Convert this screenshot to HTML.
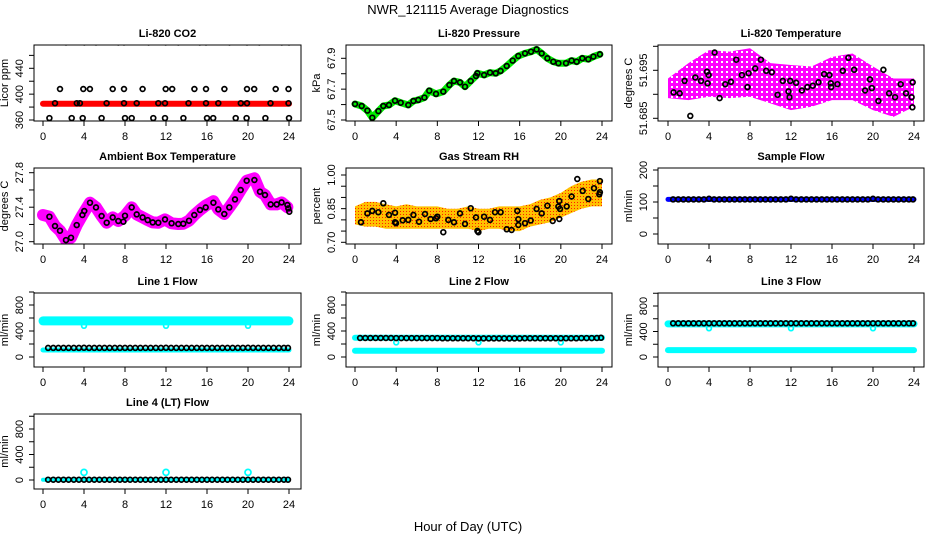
<!DOCTYPE html>
<html><head><meta charset="utf-8">
<style>
html,body{margin:0;padding:0;background:#fff;}
svg{display:block;font-family:"Liberation Sans",Arial,sans-serif;}
</style></head>
<body>
<svg id="chart" width="936" height="540" viewBox="0 0 936 540" xmlns="http://www.w3.org/2000/svg">
<defs>
<pattern id="magPat" width="5" height="5" patternUnits="userSpaceOnUse"><rect width="5" height="5" fill="#ff00ff"/><rect x="1" y="1" width="2" height="2" fill="#ffffff"/></pattern>
<pattern id="rhPat" width="3" height="3" patternUnits="userSpaceOnUse"><rect width="3" height="3" fill="#ffc000"/><rect x="1" y="1" width="1" height="1" fill="#ff2000"/></pattern>
</defs>
<text x="468" y="14" text-anchor="middle" font-size="13">NWR_121115  Average Diagnostics</text>
<text x="468" y="531" text-anchor="middle" font-size="13">Hour of Day (UTC)</text>
</svg>
<script>
// ---------- data ----------
const xTicks = [0,4,8,12,16,20,24];
// CO2
const co2RedHours = [0,24];
const co2RedValues = [385,385];
const co2Hours = [2.24,4.03,5.17,7.35,7.9,10.3,11.97,13.2,15.3,15.9,18.2,19.9,21.1,23.3,24.0,
 1.66,3.93,4.58,6.8,7.9,9.72,11.97,12.6,14.77,15.9,17.7,19.9,20.6,22.7,23.95,
 1.17,3.3,3.6,6.2,7.9,9.14,11.25,11.9,14.2,15.9,17.1,19.3,19.9,22.2,23.95,
 0.62,2.8,3.87,5.72,8.0,8.65,10.76,11.9,13.7,16.0,16.6,18.8,19.86,21.7,24.0];
const co2Values = [480,480,480,480,480,480,480,480,480,480,480,480,480,480,480,
 408,408,408,408,408,408,408,408,408,408,408,408,408,408,408,
 386,386,386,386,386,386,386,386,386,386,386,386,386,386,386,
 363,363,363,363,363,363,363,363,363,363,363,363,363,363,363];
const co2YTicks = [360,380,400,420,440,460];
const co2YLabels = [360,400,440];
// Pressure
const presHours = [0,0.65,1.2,1.68,2.27,2.75,3.3,3.89,4.44,5.18,5.67,6.15,6.74,7.22,7.87,8.58,9.17,9.62,10.2,10.69,11.24,11.76,11.89,12.54,13.12,13.67,14.15,14.74,15.32,15.87,16.52,17.1,17.65,18.14,18.69,19.27,19.76,20.5,21.05,21.54,22.09,22.67,23.16,23.8];
const presValues = [67.604,67.591,67.561,67.515,67.558,67.591,67.597,67.625,67.612,67.597,67.623,67.630,67.645,67.690,67.669,67.684,67.727,67.753,67.744,67.716,67.753,67.785,67.803,67.792,67.807,67.803,67.818,67.850,67.885,67.915,67.932,67.943,67.958,67.932,67.900,67.878,67.868,67.868,67.885,67.878,67.900,67.894,67.911,67.926];
const presYTicks = [67.5,67.6,67.7,67.8,67.9];
const presYLabels = [67.5,67.7,67.9];
// Li-820 Temperature
const ltCloudHours = [0,2,4,6,8,10,12,14,16,18,20,22,24];
const ltCloudUpper = [51.6933,51.6965,51.6992,51.6989,51.6996,51.6965,51.6961,51.6958,51.6978,51.6985,51.6958,51.6933,51.6933];
const ltCloudLower = [51.6892,51.6888,51.6895,51.6892,51.6895,51.6881,51.6867,51.6874,51.6888,51.6888,51.6867,51.6853,51.6874];
const ltHours = [0.55,1.14,1.62,2.18,2.66,3.22,3.8,3.86,3.96,4.55,5.03,5.59,6.14,6.66,7.21,7.76,7.86,8.51,9.06,9.58,10.13,10.69,11.2,11.76,11.85,11.92,12.5,13.06,13.6,14.13,14.68,15.23,15.75,15.88,15.91,16.53,17.05,17.6,18.16,19.23,19.71,19.88,20.53,21.01,21.57,22.15,22.7,23.22,23.77,23.87,23.84];
const ltValues = [51.6904,51.6902,51.6928,51.6855,51.6935,51.6928,51.6947,51.6923,51.6940,51.6987,51.6892,51.6921,51.6926,51.6972,51.6940,51.6915,51.6944,51.6954,51.6972,51.6949,51.6946,51.6899,51.6928,51.6906,51.6894,51.6928,51.6924,51.6908,51.6915,51.6918,51.6925,51.6942,51.6940,51.6923,51.6915,51.6921,51.6949,51.6976,51.6951,51.6908,51.6931,51.6913,51.6886,51.6951,51.6902,51.6894,51.6921,51.6902,51.6894,51.6925,51.6873];
const ltYTicks = [51.685,51.69,51.695,51.70];
const ltYLabels = [51.685,51.695];
// Ambient box temperature
const ambHours = [0.62,1.17,1.66,2.24,2.73,3.29,3.84,4.03,4.59,5.17,5.72,6.21,6.8,7.35,7.84,8.0,8.65,9.14,9.72,10.21,10.7,11.25,11.9,12.55,13.2,13.69,14.24,14.76,15.32,15.87,16.62,17.1,17.69,18.18,18.73,19.29,19.87,20.62,21.17,21.66,22.21,22.8,23.28,23.84,23.93,24.03];
const ambValues = [27.290,27.182,27.128,27.019,27.046,27.193,27.309,27.356,27.452,27.398,27.298,27.220,27.282,27.240,27.232,27.301,27.398,27.317,27.282,27.251,27.224,27.220,27.259,27.213,27.205,27.209,27.243,27.309,27.367,27.398,27.452,27.375,27.321,27.398,27.491,27.599,27.707,27.715,27.580,27.541,27.433,27.433,27.456,27.425,27.386,27.348];
const ambBandHours = [0,0.62,1.17,1.66,2.24,2.73,3.29,3.84,4.59,5.17,5.72,6.21,6.8,7.35,8.0,8.65,9.14,9.72,10.21,10.7,11.25,11.9,12.55,13.2,13.69,14.24,14.76,15.32,15.87,16.62,17.1,17.69,18.18,18.73,19.29,19.87,20.62,21.17,21.66,22.21,22.8,23.28,23.84];
const ambBandValues = [27.31,27.290,27.182,27.128,27.019,27.046,27.193,27.309,27.452,27.398,27.298,27.220,27.282,27.240,27.301,27.398,27.317,27.282,27.251,27.224,27.220,27.259,27.213,27.205,27.209,27.243,27.309,27.367,27.420,27.470,27.375,27.321,27.398,27.491,27.599,27.707,27.735,27.580,27.541,27.433,27.433,27.456,27.400];
const ambYTicks = [27.0,27.2,27.4,27.6,27.8];
const ambYLabels = ["27.0","27.4","27.8"];
// Gas stream RH
const rhCloudHours = [0,1,2,3,4,5,6,7,8,9,10,11,12,13,14,15,16,17,18,19,20,21,22,23,24];
const rhCloudUpper = [0.86,0.88,0.88,0.87,0.86,0.87,0.86,0.86,0.86,0.85,0.85,0.86,0.85,0.85,0.86,0.86,0.86,0.87,0.89,0.90,0.92,0.95,0.97,0.98,0.98];
const rhCloudLower = [0.78,0.77,0.77,0.76,0.76,0.76,0.76,0.76,0.76,0.76,0.76,0.76,0.75,0.76,0.76,0.75,0.75,0.77,0.78,0.79,0.81,0.83,0.85,0.86,0.86];
const rhHours = [0.58,1.2,1.68,2.27,2.75,3.3,3.89,3.89,3.98,4.63,5.18,5.67,6.22,6.8,7.35,7.87,8.0,8.58,9.07,9.62,10.2,10.69,11.24,11.76,11.89,11.99,12.54,13.12,13.6,14.15,14.74,15.22,15.77,15.87,15.87,16.52,17.07,17.65,18.14,18.69,19.21,19.76,19.85,19.92,19.85,20.57,21.05,21.6,22.12,22.67,23.22,23.8,23.8,23.74];
const rhValues = [0.789,0.829,0.840,0.834,0.874,0.822,0.832,0.789,0.785,0.798,0.800,0.822,0.792,0.826,0.804,0.807,0.814,0.745,0.800,0.789,0.829,0.782,0.852,0.811,0.751,0.745,0.814,0.800,0.834,0.834,0.758,0.755,0.840,0.803,0.777,0.785,0.797,0.849,0.829,0.863,0.795,0.859,0.884,0.849,0.804,0.860,0.904,0.982,0.929,0.893,0.941,0.973,0.923,0.914];
const rhYTicks = [0.70,0.75,0.80,0.85,0.90,0.95,1.00];
const rhYLabels = ["0.70","0.85","1.00"];
// Flows
const flowHours = [0.5,1,1.5,2,2.5,3,3.5,4,4.5,5,5.5,6,6.5,7,7.5,8,8.5,9,9.5,10,10.5,11,11.5,12,12.5,13,13.5,14,14.5,15,15.5,16,16.5,17,17.5,18,18.5,19,19.5,20,20.5,21,21.5,22,22.5,23,23.5,23.9];
const sampleBlack = [108,108,108,108,108,108,108,110,108,108,108,108,108,108,108,108,108,108,108,108,108,108,108,110,108,108,108,108,108,108,108,108,108,108,108,108,108,108,108,110,108,108,108,108,108,108,108,108];
const line1Black = [140,140,140,140,140,140,140,142,140,140,140,140,140,140,140,140,140,140,140,140,140,140,140,142,140,140,140,140,140,140,140,140,140,140,140,140,140,140,140,142,140,140,140,140,140,140,140,140];
const line2Black = [292,292,292,292,292,292,292,290,290,290,290,290,290,290,290,290,288,288,288,288,288,288,288,286,286,286,286,286,286,286,286,286,288,288,288,288,288,288,288,288,288,288,288,290,290,290,292,295];
const line3Black = [528,528,528,528,528,528,528,528,528,528,528,528,528,528,528,528,528,528,528,528,528,528,528,528,528,528,528,528,528,528,528,528,528,528,528,528,528,528,528,528,528,528,528,528,528,528,528,528];
const line4Black = [5,5,5,5,5,5,5,5,5,5,5,5,5,5,5,5,5,5,5,5,5,5,5,5,5,5,5,5,5,5,5,5,5,5,5,5,5,5,5,5,5,5,5,5,5,5,5,5];
const bandHours = [0,24];
const sampleBand = [108,108];
const line1CyanHigh = [555,555];
const line1CyanLow = [108,108];
const line2CyanHigh = [295,295];
const line2CyanLow = [97,97];
const line3CyanHigh = [520,520];
const line3CyanLow = [108,108];
const line4Cyan = [5,5];
const dipHours = [4,12,20];
const line1Dips = [480,480,480];
const line2Dips = [225,225,225];
const line3Dips = [450,450,450];
const line4Dips = [120,120,120];
const sampleYTicks = [0,50,100,150,200];
const sampleYLabels = [0,100,200];
const flowYTicks = [0,200,400,600,800,1000];
const flowYLabels = [0,400,800];

// ---------- layout ----------
const NS = "http://www.w3.org/2000/svg";
const svg = document.getElementById("chart");
const cols = [{l:34,r:301,x0:43,x24:289},{l:346,r:612,x0:355,x24:602},{l:658,r:924,x0:668,x24:914}];
const rows = [{t:45,b:121},{t:168,b:244},{t:293,b:367},{t:414,b:489}];

function mk(tag, attrs, parent){
  const e = document.createElementNS(NS, tag);
  for (const k in attrs) e.setAttribute(k, attrs[k]);
  (parent||svg).appendChild(e);
  return e;
}
function linScale(v1,p1,v2,p2){ return v => p1 + (v - v1)*(p2 - p1)/(v2 - v1); }

function panel(name, title, ci, ri, ylab, yv1, yp1, yv2, yp2, yTicks, yLabels){
  const c = cols[ci], r = rows[ri];
  const g = mk("g", {});
  
  
  const x = linScale(0, c.x0, 24, c.x24);
  const y = linScale(yv1, yp1, yv2, yp2);
  const clip = mk("clipPath", {id:"clip-"+name}, g);
  mk("rect", {x:c.l, y:r.t, width:c.r-c.l, height:r.b-r.t}, clip);
  const plot = mk("g", {"clip-path":"url(#clip-"+name+")"}, g);
  
  
  const t = mk("text", {x:(c.l+c.r)/2, y:r.t-8, "text-anchor":"middle", "font-size":"11", "font-weight":"bold"}, g);
  t.textContent = title;
  
  
  const xa = mk("g", {}, g);
  
  
  mk("line", {x1:x(xTicks[0]), x2:x(xTicks[xTicks.length-1]), y1:r.b, y2:r.b, stroke:"#000"}, xa);
  xTicks.forEach(v => {
    mk("line", {x1:x(v), x2:x(v), y1:r.b, y2:r.b+5, stroke:"#000"}, xa);
    const lt = mk("text", {x:x(v), y:r.b+19, "text-anchor":"middle", "font-size":"11"}, xa);
    lt.textContent = v;
  });
  const ya = mk("g", {}, g);
  
  
  mk("line", {x1:c.l, x2:c.l, y1:y(yTicks[0]), y2:y(yTicks[yTicks.length-1]), stroke:"#000"}, ya);
  yTicks.forEach(v => { mk("line", {x1:c.l-5, x2:c.l, y1:y(v), y2:y(v), stroke:"#000"}, ya); });
  yLabels.forEach(v => {
    const px = c.l-11, py = y(parseFloat(v));
    const lt = mk("text", {x:px, y:py, "text-anchor":"middle", "font-size":"11", transform:"rotate(-90 "+px+" "+py+")"}, ya);
    lt.textContent = v;
  });
  const yt = mk("text", {x:c.l-26, y:(r.t+r.b)/2, "text-anchor":"middle", "font-size":"11", transform:"rotate(-90 "+(c.l-26)+" "+((r.t+r.b)/2)+")"}, g);
  yt.textContent = ylab;
  
  
  const fr = mk("rect", {x:c.l, y:r.t, width:c.r-c.l, height:r.b-r.t, fill:"none", stroke:"#000"}, g);
  
  
  return {plot, x, y};
}
function band(p, hours, vals, color, w, nm){
  const d = hours.map((h,i)=>(i?"L":"M")+p.x(h).toFixed(1)+" "+p.y(vals[i]).toFixed(1)).join(" ");
  const e = mk("path", {d, fill:"none", stroke:color, "stroke-width":w, "stroke-linecap":"round", "stroke-linejoin":"round"}, p.plot);
  
  
}
function cloud(p, hours, up, lo, fill, nm){
  let d = hours.map((h,i)=>(i?"L":"M")+p.x(h).toFixed(1)+" "+p.y(up[i]).toFixed(1)).join(" ");
  for (let i=hours.length-1;i>=0;i--) d += " L"+p.x(hours[i]).toFixed(1)+" "+p.y(lo[i]).toFixed(1);
  const e = mk("path", {d:d+" Z", fill, stroke:"none"}, p.plot);
  
  
}
function pts(p, hours, vals, color, nm, r){
  hours.forEach((h,i)=>{
    const e = mk("circle", {cx:p.x(h).toFixed(1), cy:p.y(vals[i]).toFixed(1), r:r||2.4, fill:"none", stroke:color, "stroke-width":1.7}, p.plot);
    
    
  });
}

let p = panel("co2-panel","Li-820 CO2",0,0,"Licor ppm",360,120,440,68.3,co2YTicks,co2YLabels);
band(p, co2RedHours, co2RedValues, "#ff0000", 6, "co2-red-band");
pts(p, co2Hours, co2Values, "#000", "co2-point");
p = panel("pressure-panel","Li-820 Pressure",1,0,"kPa",67.5,120,67.9,58.3,presYTicks,presYLabels);
band(p, presHours, presValues, "#00ee00", 7, "pressure-green-band");
pts(p, presHours, presValues, "#000", "pressure-point");
p = panel("li-temp-panel","Li-820 Temperature",2,0,"degrees C",51.685,118.3,51.695,70.3,ltYTicks,ltYLabels);
cloud(p, ltCloudHours, ltCloudUpper, ltCloudLower, "url(#magPat)", "li-temp-magenta-cloud");
pts(p, ltHours, ltValues, "#000", "li-temp-point");
p = panel("ambient-panel","Ambient Box Temperature",0,1,"degrees C",27.0,241.7,27.8,172.7,ambYTicks,ambYLabels);
band(p, ambBandHours, ambBandValues, "#ff00ff", 12, "ambient-magenta-band");
pts(p, ambHours, ambValues, "#000", "ambient-point");
p = panel("rh-panel","Gas Stream RH",1,1,"percent",0.70,242.3,1.00,175,rhYTicks,rhYLabels);
cloud(p, rhCloudHours, rhCloudUpper, rhCloudLower, "url(#rhPat)", "rh-orange-cloud");
pts(p, rhHours, rhValues, "#000", "rh-point");
p = panel("sample-flow-panel","Sample Flow",2,1,"ml/min",0,234,200,170,sampleYTicks,sampleYLabels);
band(p, bandHours, sampleBand, "#0000ff", 5, "sample-flow-blue-band");
pts(p, flowHours, sampleBlack, "#000", "sample-flow-point");
p = panel("line1-panel","Line 1 Flow",0,2,"ml/min",0,357,800,305,flowYTicks,flowYLabels);
band(p, bandHours, line1CyanHigh, "#00ffff", 9, "line1-cyan-high");
band(p, bandHours, line1CyanLow, "#00ffff", 5, "line1-cyan-low");
pts(p, dipHours, line1Dips, "#00ffff", "line1-cyan-dip");
pts(p, flowHours, line1Black, "#000", "line1-point");
p = panel("line2-panel","Line 2 Flow",1,2,"ml/min",0,357,800,305,flowYTicks,flowYLabels);
band(p, bandHours, line2CyanHigh, "#00ffff", 6, "line2-cyan-high");
band(p, bandHours, line2CyanLow, "#00ffff", 6, "line2-cyan-low");
pts(p, dipHours, line2Dips, "#00ffff", "line2-cyan-dip");
pts(p, flowHours, line2Black, "#000", "line2-point");
p = panel("line3-panel","Line 3 Flow",2,2,"ml/min",0,357,800,306,flowYTicks,flowYLabels);
band(p, bandHours, line3CyanHigh, "#00ffff", 7, "line3-cyan-high");
band(p, bandHours, line3CyanLow, "#00ffff", 6, "line3-cyan-low");
pts(p, dipHours, line3Dips, "#00ffff", "line3-cyan-dip");
pts(p, flowHours, line3Black, "#000", "line3-point");
p = panel("line4-panel","Line 4 (LT) Flow",0,3,"ml/min",0,480,800,429,flowYTicks,flowYLabels);
band(p, bandHours, line4Cyan, "#00ffff", 4, "line4-cyan-band");
pts(p, dipHours, line4Dips, "#00ffff", "line4-cyan-dip", 3);
pts(p, flowHours, line4Black, "#000", "line4-point");
</script>
</body></html>
